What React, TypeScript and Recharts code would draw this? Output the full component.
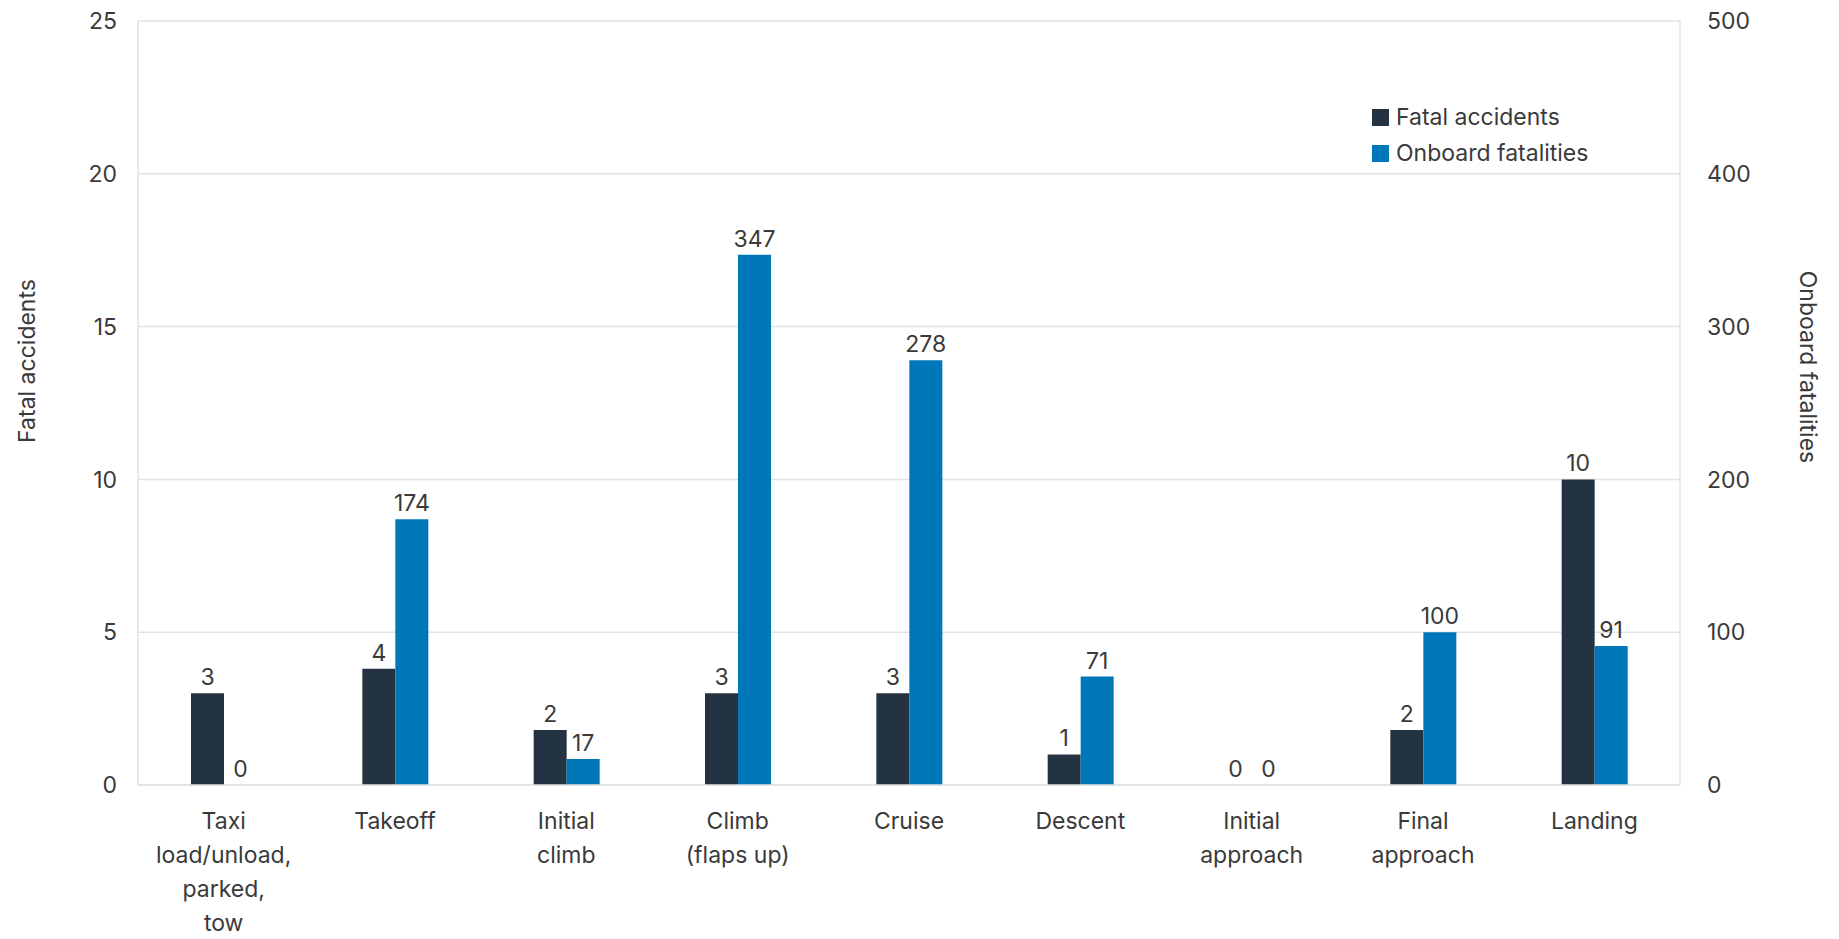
import { Bar, BarChart, CartesianGrid, LabelList, XAxis, YAxis } from "recharts";

const DARK = "#243341";
const BLUE = "#0077B8";
const TEXT = "#3a3a3a";
const GRID = "#e2e2e2";
const FONT = "Inter, 'Noto Sans', sans-serif";
const FS = 23;

const phases = [
  "Taxi\nload/unload,\nparked,\ntow",
  "Takeoff",
  "Initial\nclimb",
  "Climb\n(flaps up)",
  "Cruise",
  "Descent",
  "Initial\napproach",
  "Final\napproach",
  "Landing",
];
const fatalAccidents = [3, 3.8, 1.8, 3, 3, 1, 0, 1.8, 10];
const onboardFatalities = [0, 174, 17, 347, 278, 71, 0, 100, 91];
const leftTicks = [0, 5, 10, 15, 20, 25];
const rightTicks = [0, 100, 200, 300, 400, 500];
const seriesNames = ["Fatal accidents", "Onboard fatalities"];

const data = phases.map((phase, i) => ({
  phase,
  accidents: fatalAccidents[i],
  fatalities: onboardFatalities[i],
}));

function PhaseTick({ x, y, payload }: any) {
  const lines = String(payload.value).split("\n");
  return (
    <text x={x} y={y} textAnchor="middle" fill={TEXT} fontSize={FS} fontFamily={FONT}>
      {lines.map((line, i) => (
        <tspan key={i} x={x} dy={i === 0 ? 36 : 34}>
          {line}
        </tspan>
      ))}
    </text>
  );
}

function LegendBox() {
  const colors = [DARK, BLUE];
  return (
    <div
      style={{
        position: "absolute",
        left: 1372,
        top: 99,
        fontFamily: FONT,
        fontSize: FS,
        color: TEXT,
      }}
    >
      {seriesNames.map((name, i) => (
        <div key={name} style={{ display: "flex", alignItems: "center", height: 36 }}>
          <span
            style={{
              width: 17,
              height: 17,
              background: colors[i],
              marginRight: 7,
              display: "inline-block",
            }}
          />
          {name}
        </div>
      ))}
    </div>
  );
}

export default function App() {
  const tick = { fontSize: FS, fill: TEXT, fontFamily: FONT };
  const labelStyle = { fontSize: FS, fill: TEXT, fontFamily: FONT };
  return (
    <div style={{ position: "absolute", left: 0, top: 0, width: 1839, height: 939, background: "#fff" }}>
      <BarChart
        width={1839}
        height={939}
        data={data}
        margin={{ top: 21, right: 0, left: 0, bottom: 0 }}
        barGap={0}
        barSize={33}
      >
        <CartesianGrid yAxisId="left" vertical={false} stroke={GRID} strokeWidth={1.5} />
        <XAxis
          dataKey="phase"
          interval={0}
          height={154}
          tickLine={false}
          axisLine={{ stroke: GRID, strokeWidth: 1.5 }}
          tick={<PhaseTick />}
        />
        <YAxis
          yAxisId="left"
          width={138}
          domain={[0, 25]}
          ticks={leftTicks}
          tickLine={false}
          axisLine={{ stroke: GRID, strokeWidth: 1.5 }}
          tickMargin={15}
          tick={tick}
          label={{
            content: () => (
              <text
                x={29}
                y={361}
                transform="rotate(-90 29 361)"
                textAnchor="middle"
                dominantBaseline="middle"
                fill={TEXT}
                fontSize={FS}
                fontFamily={FONT}
              >
                Fatal accidents
              </text>
            ),
          }}
        />
        <YAxis
          yAxisId="right"
          orientation="right"
          width={159}
          domain={[0, 500]}
          ticks={rightTicks}
          tickLine={false}
          axisLine={{ stroke: GRID, strokeWidth: 1.5 }}
          tickMargin={21}
          tick={tick}
          label={{
            content: () => (
              <text
                x={1806}
                y={367}
                transform="rotate(90 1806 367)"
                textAnchor="middle"
                dominantBaseline="middle"
                fill={TEXT}
                fontSize={FS}
                fontFamily={FONT}
              >
                Onboard fatalities
              </text>
            ),
          }}
        />
        <Bar
          yAxisId="left"
          dataKey="accidents"
          name={seriesNames[0]}
          fill={DARK}
          minPointSize={0.01}
          isAnimationActive={false}
        >
          <LabelList
            dataKey="accidents"
            position="top"
            offset={8}
            formatter={(v: any) => Math.round(Number(v))}
            style={labelStyle}
          />
        </Bar>
        <Bar
          yAxisId="right"
          dataKey="fatalities"
          name={seriesNames[1]}
          fill={BLUE}
          minPointSize={0.01}
          isAnimationActive={false}
        >
          <LabelList dataKey="fatalities" position="top" offset={8} style={labelStyle} />
        </Bar>
      </BarChart>
      <LegendBox />
    </div>
  );
}
